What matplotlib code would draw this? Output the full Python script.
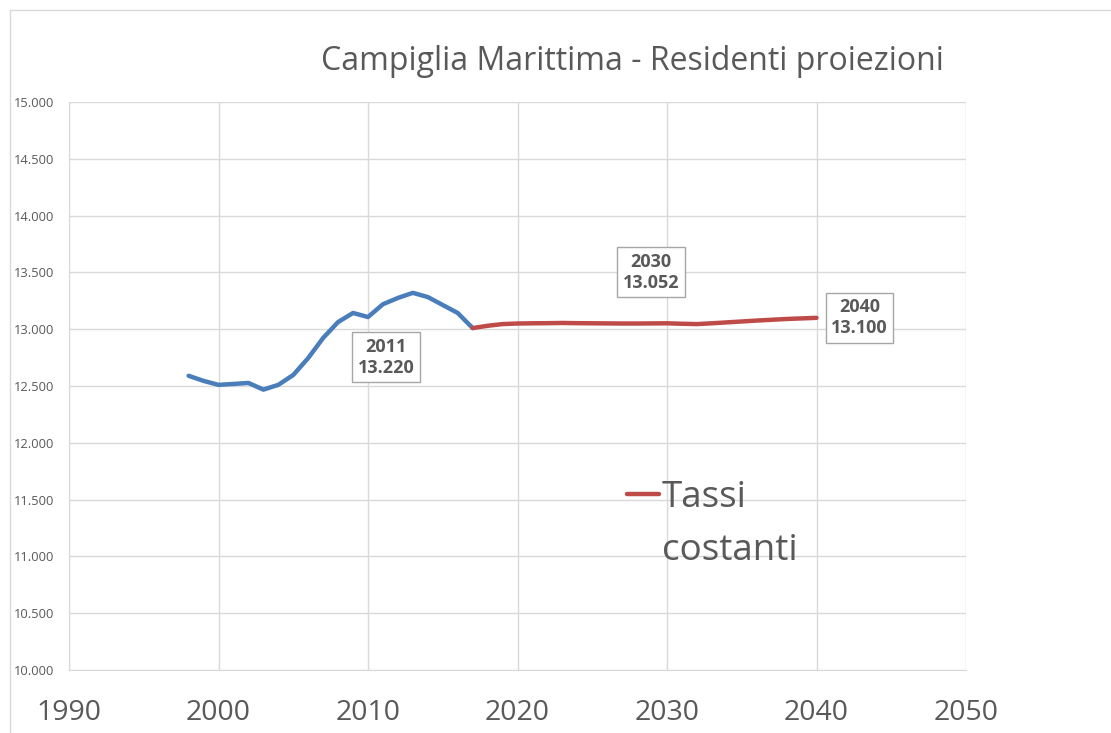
"""
Campiglia Marittima - resident population with projection.
"""
import matplotlib.pyplot as plt
from matplotlib.patches import Rectangle
from matplotlib.ticker import FuncFormatter

plt.rcParams['font.family'] = ['Open Sans', 'DejaVu Sans']

# observed residents (blue)
years_hist = list(range(1998, 2018))
res_hist = [12590, 12545, 12510, 12518, 12527, 12468, 12510, 12597, 12746, 12923,
            13063, 13143, 13107, 13220, 13275, 13320, 13283, 13213, 13143, 13010]

# projection "Tassi costanti" (red)
years_proj = list(range(2017, 2041))
res_proj = [13010, 13030, 13045, 13050, 13052, 13053, 13055, 13053, 13052, 13051,
            13050, 13050, 13051, 13052, 13048, 13045, 13052, 13060, 13068, 13076,
            13083, 13090, 13095, 13100]

x_ticks = list(range(1990, 2051, 10))
y_ticks = list(range(10000, 15001, 500))

labels = [  # (year, value, offset in px)
    (2011, 13220, (3, -53)),
    (2030, 13052, (-16, 51)),
    (2040, 13100, (43, 0)),
]

grey_txt = '#595959'
grid_col = '#D9D9D9'

fig = plt.figure(figsize=(11.11, 7.33), dpi=100)
fig.patches.append(Rectangle((10 / 1111, -0.2), 2, 1.2 - 10 / 733,
                             transform=fig.transFigure, fill=False,
                             edgecolor=grid_col, linewidth=1))
ax = fig.add_axes([69 / 1111, 1 - 670 / 733, (966 - 69) / 1111, (670 - 102) / 733])

ax.plot(years_hist, res_hist, color='#4A7EBB', linewidth=3.2, solid_capstyle='round',
        solid_joinstyle='round')
line_p, = ax.plot(years_proj, res_proj, color='#BE4B48', linewidth=3.2,
                  solid_capstyle='round', solid_joinstyle='round')

ax.set_xlim(1990, 2050)
ax.set_ylim(10000, 15000)
ax.set_xticks(x_ticks)
ax.set_yticks(y_ticks)
ax.yaxis.set_major_formatter(FuncFormatter(lambda v, p: f'{int(v):,}'.replace(',', '.')))
ax.tick_params(axis='x', labelsize=20.5, colors=grey_txt, length=0, pad=21)
ax.tick_params(axis='y', labelsize=9.3, colors=grey_txt, length=0, pad=11)
ax.grid(True, color=grid_col, linewidth=1)
ax.set_axisbelow(True)
for side in ['top', 'right']:
    ax.spines[side].set_visible(False)
for side in ['left', 'bottom']:
    ax.spines[side].set_color(grid_col)

for yr, val, (dx, dy) in labels:
    ax.annotate(f'{yr}\n{val:,}'.replace(',', '.'), xy=(yr, val),
                xytext=(dx * 0.72, dy * 0.72), textcoords='offset points',
                ha='center', va='center', fontsize=13, fontweight='bold',
                color=grey_txt, linespacing=1.2,
                bbox=dict(boxstyle='square,pad=0.3', facecolor='white',
                          edgecolor='#A6A6A6', linewidth=1))

fig.text(632 / 1111, 1 - 61 / 733, 'Campiglia Marittima - Residenti proiezioni',
         ha='center', va='center', fontsize=23, color=grey_txt)

# legend: handle + first word, second word on its own line below
ax.legend([line_p], ['Tassi'], loc='center left',
          bbox_to_anchor=((627 - 69) / 897, (670 - 498) / 568), frameon=False,
          fontsize=26.5, labelcolor=grey_txt, handlelength=0.87, handletextpad=0.08,
          borderaxespad=0, borderpad=0)
fig.text(662 / 1111, 1 - 560 / 733, 'costanti', ha='left', va='baseline',
         fontsize=26.5, color=grey_txt)

plt.savefig('out.png', dpi=100)
plt.close(fig)
